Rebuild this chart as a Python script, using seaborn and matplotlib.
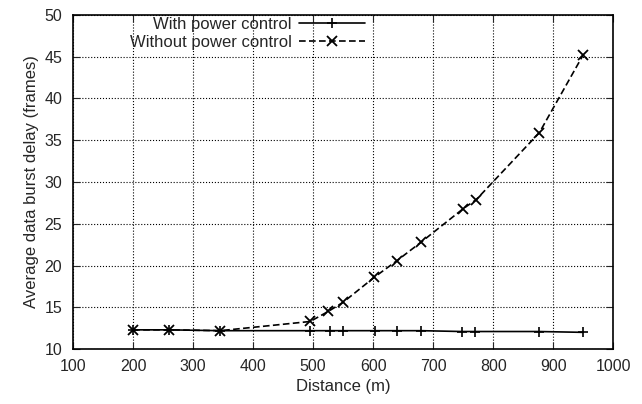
import pandas as pd
import matplotlib
matplotlib.use('Agg')
import matplotlib.pyplot as plt
import seaborn as sns

dist_with = [200, 260, 345, 495, 528, 550, 603, 640, 680, 748, 770, 876, 950]
delay_with = [12.3, 12.3, 12.2, 12.2, 12.2, 12.2, 12.2, 12.2, 12.2, 12.1, 12.1, 12.1, 12.0]

dist_without = [200, 260, 345, 495, 525, 550, 602, 640, 680, 750, 772, 877, 950]
delay_without = [12.3, 12.3, 12.2, 13.3, 14.5, 15.6, 18.6, 20.6, 22.8, 26.8, 27.9, 35.9, 45.2]

labels = ['With power control', 'Without power control']

sns.set_style('ticks')
plt.rcParams['font.family'] = ['Liberation Sans', 'DejaVu Sans']

fig = plt.figure(figsize=(6.42, 4.04), dpi=100)
ax = fig.add_axes([0.114, 0.136, 0.841, 0.827])

sns.lineplot(x=dist_with, y=delay_with, color='black', linestyle='-',
             marker='+', markersize=7, markeredgewidth=1.2, markeredgecolor='black',
             linewidth=1.2, label=labels[0], ax=ax)
sns.lineplot(x=dist_without, y=delay_without, color='black', linestyle=(0, (4, 2)),
             marker='x', markersize=7, markeredgewidth=1.3, markeredgecolor='black',
             linewidth=1.2, label=labels[1], ax=ax)

ax.set_xlim(100, 1000)
ax.set_ylim(10, 50)
ax.set_xticks(range(100, 1001, 100))
ax.set_yticks(range(10, 51, 5))
ax.grid(True, color='black', linestyle=':', linewidth=0.8)
ax.tick_params(direction='in', top=True, right=True, length=5, labelsize=11.5)
ax.tick_params(axis='x', pad=7)
ax.tick_params(axis='y', pad=8)
for s in ax.spines.values():
    s.set_linewidth(1.2)
    s.set_color('black')

ax.set_xlabel('Distance (m)', fontsize=12)
ax.set_ylabel('Average data burst delay (frames)', fontsize=12)

ax.legend(loc='upper left', bbox_to_anchor=(0.09, 1.02), frameon=False,
          markerfirst=False, fontsize=12, handlelength=4.0,
          labelspacing=0.2, borderpad=0.0, handletextpad=0.4)

fig.savefig('out.png', dpi=100)
